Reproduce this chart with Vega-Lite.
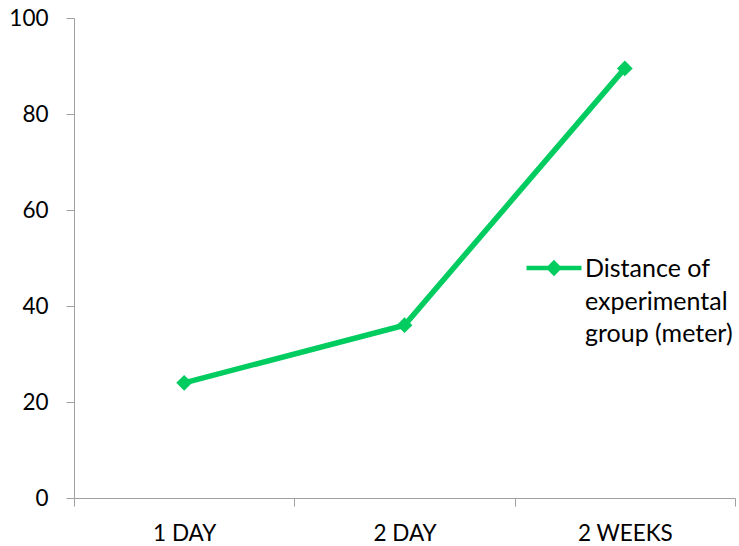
{
  "$schema": "https://vega.github.io/schema/vega-lite/v6.json",
  "autosize": "none",
  "padding": {"left": 74, "top": 18, "right": 4, "bottom": 48},
  "width": 661,
  "height": 480,
  "background": "white",
  "config": {
    "view": {"stroke": null},
    "font": "Lato"
  },
  "data": {
    "values": [
      {"period": "1 DAY", "distance": 24, "series": "Distance of experimental group (meter)"},
      {"period": "2 DAY", "distance": 36, "series": "Distance of experimental group (meter)"},
      {"period": "2 WEEKS", "distance": 89.5, "series": "Distance of experimental group (meter)"}
    ]
  },
  "mark": {
    "type": "line",
    "strokeWidth": 5.5,
    "point": {"shape": "diamond", "size": 250, "filled": true, "opacity": 1}
  },
  "encoding": {
    "x": {
      "field": "period",
      "type": "nominal",
      "sort": null,
      "title": null,
      "scale": {"type": "band", "paddingInner": 0, "paddingOuter": 0},
      "axis": {
        "labelAngle": 0,
        "tickBand": "extent",
        "tickSize": 8,
        "labelPadding": 16,
        "labelFontSize": 22.5,
        "labelColor": "#000000",
        "labelBaseline": "top",
        "domainColor": "#A0A0A0",
        "tickColor": "#A0A0A0",
        "grid": false
      }
    },
    "y": {
      "field": "distance",
      "type": "quantitative",
      "title": null,
      "scale": {"domain": [0, 100], "nice": false},
      "axis": {
        "values": [0, 20, 40, 60, 80, 100],
        "tickSize": 8,
        "labelPadding": 18,
        "labelFontSize": 22.5,
        "labelColor": "#000000",
        "domainColor": "#A0A0A0",
        "tickColor": "#A0A0A0",
        "grid": false
      }
    },
    "color": {
      "field": "series",
      "type": "nominal",
      "scale": {"range": ["#00CC60"]},
      "legend": {
        "title": null,
        "orient": "none",
        "legendX": 450,
        "legendY": 220,
        "symbolType": "M-1,0H1M0,-0.18L0.18,0L0,0.18L-0.18,0Z",
        "symbolSize": 3025,
        "symbolStrokeWidth": 4.5,
        "symbolStrokeColor": "#00CC60",
        "symbolFillColor": "#00CC60",
        "labelFontSize": 25,
        "labelColor": "#000000",
        "labelLimit": 300,
        "labelOffset": 1,
        "labelBaseline": "alphabetic",
        "labelExpr": "['Distance of', 'experimental', 'group (meter)']",
        "encode": {
          "labels": {"update": {"dy": {"value": 9}, "lineHeight": {"value": 32.5}}}
        }
      }
    }
  }
}
